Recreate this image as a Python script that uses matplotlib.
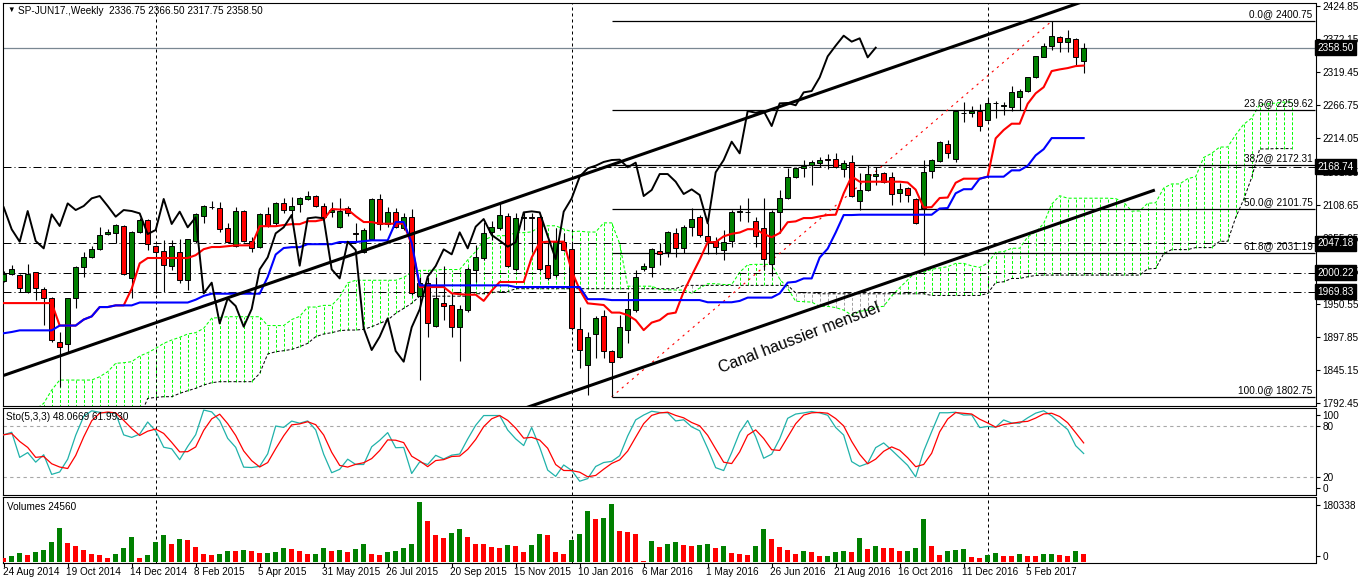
import numpy as np
import pandas as pd
import matplotlib
matplotlib.use("Agg")
import matplotlib.pyplot as plt

plt.rcParams['font.family'] = ['Liberation Sans', 'DejaVu Sans']

# ---------------- data (weekly bars, week 0 = 24 Aug 2014) ----------------
date_labels = ['24 Aug 2014', '19 Oct 2014', '14 Dec 2014', '8 Feb 2015', '5 Apr 2015',
               '31 May 2015', '26 Jul 2015', '20 Sep 2015', '15 Nov 2015', '10 Jan 2016',
               '6 Mar 2016', '1 May 2016', '26 Jun 2016', '21 Aug 2016', '16 Oct 2016',
               '11 Dec 2016', '5 Feb 2017']
date_label_weeks = [0, 8, 16, 24, 32, 40, 48, 56, 64, 72, 80, 88, 96, 104, 112, 120, 128]
year_separator_weeks = [19, 71, 123]

opens = [1987.1, 1998.8, 1996.1, 1969.1, 2000.9, 1974.4, 1960.0, 1889.5, 1886.3, 1959.5,
         2009.9, 2024.8, 2037.5, 2061.4, 2063.0, 2074.1, 1991.4, 2065.1, 2083.7, 2043.4,
         2034.9, 2011.0, 2032.7, 1988.7, 2050.8, 2090.6, 2105.4, 2102.8, 2070.9, 2042.8,
         2098.5, 2051.3, 2040.7, 2093.2, 2078.9, 2110.7, 2100.1, 2109.1, 2117.1, 2122.4,
         2106.5, 2097.5, 2073.6, 2102.8, 2063.5, 2033.8, 2053.5, 2117.7, 2077.9, 2097.5,
         2071.0, 2088.5, 1963.3, 1984.5, 1916.0, 1951.6, 1948.9, 1914.4, 1941.0, 2004.6,
         2023.2, 2064.6, 2071.0, 2090.6, 2005.7, 2086.9, 2088.5, 2089.5, 2012.6, 1996.7,
         2049.7, 2037.5, 1910.2, 1853.4, 1902.2, 1931.4, 1875.7, 1865.6, 1909.1, 1940.9,
         2006.2, 2008.9, 2035.4, 2032.8, 2063.0, 2039.1, 2073.0, 2088.5, 2059.3, 2051.3,
         2036.5, 2050.8, 2096.5, 2097.0, 2082.6, 2070.9, 2014.2, 2097.5, 2118.7, 2153.2,
         2166.5, 2172.3, 2175.5, 2180.8, 2180.8, 2164.9, 2177.1, 2115.0, 2132.0, 2154.2,
         2158.5, 2152.1, 2126.7, 2134.6, 2117.6, 2103.8, 2162.7, 2178.1, 2204.6, 2180.8,
         2254.0, 2254.0, 2257.7, 2242.9, 2269.9, 2266.2, 2263.6, 2280.5, 2290.1, 2311.3,
         2344.2, 2361.7, 2376.0, 2367.0, 2372.3, 2336.75]
highs = [2003.0, 2012.6, 1997.7, 2013.6, 2002.0, 1978.1, 1962.2, 1906.5, 1960.6, 2010.5,
         2032.7, 2042.8, 2072.5, 2069.4, 2077.8, 2076.3, 2066.0, 2086.9, 2085.3, 2044.4,
         2052.4, 2052.4, 2053.4, 2054.5, 2095.9, 2108.1, 2115.0, 2113.4, 2078.9, 2105.4,
         2100.1, 2057.7, 2095.9, 2105.4, 2112.3, 2118.7, 2121.4, 2121.4, 2130.9, 2124.0,
         2110.7, 2113.4, 2118.7, 2106.5, 2078.9, 2070.9, 2118.7, 2125.6, 2105.5, 2102.8,
         2094.8, 2101.2, 1994.0, 1994.0, 1994.0, 2011.0, 1967.5, 1948.9, 2008.9, 2044.4,
         2081.6, 2083.2, 2110.8, 2094.8, 2094.8, 2097.5, 2094.8, 2092.2, 2049.7, 2071.0,
         2063.0, 2047.1, 1946.3, 1906.5, 1931.9, 1941.0, 1877.0, 1933.0, 1969.1, 2004.6,
         2015.2, 2039.1, 2047.1, 2066.7, 2071.0, 2076.3, 2103.9, 2092.2, 2078.9, 2057.7,
         2068.3, 2100.1, 2108.1, 2118.7, 2088.5, 2118.7, 2100.1, 2132.0, 2166.5, 2169.1,
         2179.7, 2179.7, 2185.0, 2189.3, 2190.3, 2179.7, 2187.7, 2158.5, 2171.8, 2168.0,
         2161.2, 2161.2, 2142.6, 2137.3, 2119.0, 2179.7, 2181.0, 2210.0, 2211.5, 2258.5,
         2271.5, 2266.2, 2268.3, 2277.9, 2273.6, 2271.5, 2298.0, 2292.2, 2312.5, 2345.8,
         2365.4, 2400.75, 2377.6, 2386.7, 2373.4, 2366.50]
lows = [1985.5, 1996.7, 1970.1, 1968.0, 1956.9, 1917.1, 1890.5, 1818.9, 1872.0, 1943.6,
        1994.0, 2023.2, 2036.5, 2060.3, 2048.1, 1996.1, 1960.6, 2063.0, 2036.5, 1967.5,
        1970.1, 2004.6, 1983.4, 1972.8, 2047.1, 2078.9, 2101.2, 2065.6, 2048.1, 2041.8,
        2049.7, 2033.8, 2039.1, 2072.5, 2076.3, 2095.9, 2089.5, 2097.5, 2116.0, 2104.4,
        2086.9, 2089.5, 2070.9, 2090.6, 2049.7, 2031.1, 2052.4, 2068.3, 2073.6, 2071.0,
        2068.3, 1964.8, 1829.5, 1897.5, 1914.4, 1925.0, 1898.5, 1860.3, 1938.3, 1986.1,
        2020.6, 2052.4, 2068.3, 2008.9, 2003.6, 2068.3, 2033.8, 2003.6, 1988.7, 1994.0,
        2034.9, 1909.0, 1849.1, 1805.7, 1864.0, 1864.0, 1802.75, 1864.0, 1887.9, 1938.3,
        2003.0, 1994.0, 2012.6, 2025.9, 2025.9, 2031.0, 2059.3, 2057.7, 2029.6, 2030.0,
        2020.6, 2040.7, 2082.6, 2081.6, 2041.8, 2005.0, 1995.0, 2063.0, 2117.0, 2150.5,
        2152.1, 2139.9, 2169.1, 2164.9, 2166.5, 2152.1, 2121.0, 2100.1, 2130.4, 2140.0,
        2143.6, 2108.1, 2113.4, 2113.4, 2077.3, 2028.5, 2150.5, 2177.0, 2182.4, 2177.0,
        2240.7, 2248.7, 2225.9, 2241.8, 2247.1, 2251.3, 2257.7, 2259.3, 2288.5, 2309.7,
        2343.1, 2354.8, 2352.2, 2352.2, 2330.9, 2317.75]
closes = [1997.7, 2005.7, 1975.4, 1998.8, 1975.4, 1960.0, 1893.7, 1881.5, 1959.5, 2009.4,
          2024.8, 2037.5, 2059.8, 2064.6, 2076.3, 1997.7, 2065.1, 2083.7, 2046.0, 2032.7,
          2012.0, 2042.3, 1988.7, 2053.4, 2093.8, 2106.5, 2104.4, 2069.4, 2049.7, 2098.5,
          2050.8, 2039.1, 2093.2, 2074.7, 2110.7, 2100.1, 2106.5, 2118.7, 2122.4, 2106.5,
          2089.5, 2100.1, 2098.5, 2094.8, 2061.9, 2068.3, 2117.7, 2077.9, 2097.5, 2072.6,
          2088.5, 1967.5, 1984.5, 1919.7, 1959.5, 1947.3, 1914.4, 1942.6, 2005.7, 2024.8,
          2063.0, 2072.6, 2092.2, 2011.5, 2086.9, 2088.5, 2086.9, 2005.7, 1991.3, 2049.7,
          2036.5, 1911.8, 1877.3, 1898.5, 1927.7, 1875.7, 1858.7, 1913.4, 1942.0, 1994.0,
          2011.0, 2037.5, 2029.6, 2064.6, 2039.1, 2073.6, 2085.8, 2060.3, 2051.3, 2041.8,
          2048.7, 2096.4, 2098.0, 2096.4, 2058.7, 2022.1, 2097.5, 2118.7, 2153.2, 2166.5,
          2170.7, 2176.6, 2179.7, 2180.3, 2168.1, 2175.5, 2122.4, 2132.0, 2157.4, 2157.4,
          2145.2, 2125.6, 2133.0, 2124.0, 2078.9, 2160.1, 2179.7, 2208.9, 2190.3, 2257.7,
          2255.0, 2257.7, 2233.8, 2269.9, 2270.5, 2266.8, 2287.4, 2289.5, 2311.3, 2344.7,
          2361.7, 2377.6, 2368.1, 2373.4, 2343.1, 2358.50]
volumes = [12000, 19000, 27000, 21000, 30000, 36000, 60000, 102000, 57000, 48000,
           36000, 24000, 21000, 12000, 24000, 43000, 75000, 12000, 21000, 60000,
           81000, 54000, 69000, 66000, 45000, 24000, 21000, 24000, 33000, 32000,
           36000, 33000, 27000, 28000, 30000, 42000, 39000, 33000, 24000, 25000,
           42000, 33000, 36000, 30000, 39000, 54000, 24000, 21000, 30000, 33000,
           42000, 54000, 180338, 123000, 81000, 72000, 87000, 99000, 75000, 54000,
           54000, 45000, 42000, 51000, 48000, 30000, 51000, 84000, 81000, 30000,
           24000, 66000, 84000, 153000, 130000, 132000, 174000, 93000, 90000, 84000,
           2500, 63000, 45000, 54000, 60000, 51000, 48000, 51000, 54000, 42000,
           48000, 27000, 24000, 21000, 48000, 99000, 69000, 45000, 36000, 24000,
           33000, 30000, 18000, 19000, 30000, 33000, 30000, 72000, 39000, 48000,
           42000, 41000, 33000, 34000, 42000, 129000, 48000, 21000, 33000, 36000,
           39000, 15000, 12000, 21000, 27000, 18000, 18000, 24000, 18000, 18000,
           24000, 25000, 21000, 18000, 33000, 24560]

# Ichimoku values that depend on bars before the visible window
tenkan_early = [1952, 1952, 1952, 1952, 1952, 1952, 1952]
kijun_early = [1904, 1906, 1908.6, 1908.6, 1908.6, 1908.6, 1908.6]
senkou_a_early = [1775, 1775, 1775, 1775, 1783, 1792.4, 1813.6, 1829.5, 1829.5, 1829.5,
                  1829.5, 1829.5, 1834.8, 1842.8, 1856.1, 1857.1, 1858.7, 1867.7, 1873.0,
                  1879.9, 1887.9, 1893.2, 1897.5, 1902.8, 1904.9, 1911.8]
senkou_b_early = [1770] * 18 + [1800.3, 1801.9, 1803.0, 1803.0, 1808.3, 1812.5, 1816.3,
                  1821.6, 1825.3, 1826.9, 1826.9, 1826.9, 1826.9, 1826.9, 1840.1, 1870.9,
                  1874.6, 1876.2, 1878.3, 1882.6, 1887.9, 1898.5, 1902.8, 1904.9, 1908.1,
                  1909.1, 1909.1, 1910.2, 1914.4, 1919.7, 1925.0, 1935.6, 1943.6, 1951.6,
                  1963.0, 1963.0, 1963.0, 1963.0, 1963.0, 1963.0, 1963.0]

h_levels = [2168.74, 2047.18, 2000.22, 1969.83]
last_price = 2358.50
fib_low_week, fib_high_week = 76, 131
fib_low, fib_high = 1802.75, 2400.75
fib_ratios = [0.0, 23.6, 38.2, 50.0, 61.8, 100.0]
axis_prices = [2424.85, 2372.15, 2319.45, 2266.75, 2214.05, 2161.35, 2108.65,
               2055.95, 2003.25, 1950.55, 1897.85, 1845.15, 1792.45]
channel_upper = [(0, 1836.9), (140, 2454.3)]
channel_lower = [(62, 1770.9), (143.9, 2132.0)]

# ---------------- derived indicator series ----------------
O = np.array(opens); Hi = np.array(highs); Lo = np.array(lows); Cl = np.array(closes)
n = len(Cl)
x = np.arange(n)
Hs, Ls, Cs = pd.Series(Hi), pd.Series(Lo), pd.Series(Cl)

tenkan = ((Hs.rolling(9, min_periods=1).max() + Ls.rolling(9, min_periods=1).min()) / 2).values
tenkan[:len(tenkan_early)] = tenkan_early
kijun = ((Hs.rolling(26, min_periods=1).max() + Ls.rolling(26, min_periods=1).min()) / 2).values
kijun[:len(kijun_early)] = kijun_early
mid52 = ((Hs.rolling(52, min_periods=1).max() + Ls.rolling(52, min_periods=1).min()) / 2).values
span_a = np.concatenate([senkou_a_early, (tenkan + kijun) / 2])
span_b = np.concatenate([senkou_b_early, mid52[len(senkou_b_early) - 26:]])
px = np.arange(len(span_a))

ll5 = Ls.rolling(5, min_periods=1).min(); hh5 = Hs.rolling(5, min_periods=1).max()
sto_k = 100 * (Cs - ll5).rolling(3, min_periods=1).sum() / (hh5 - ll5).rolling(3, min_periods=1).sum()
sto_d = sto_k.rolling(3, min_periods=1).mean()

# ---------------- figure ----------------
W, H = 1358, 584
fig = plt.figure(figsize=(W / 100, H / 100), dpi=100)
fig.patch.set_facecolor('white')

def rect(x0, y0, x1, y1):
    return [x0 / W, 1 - y1 / H, (x1 - x0) / W, (y1 - y0) / H]

ax_p = fig.add_axes(rect(2.7, 2.7, 1315.5, 405.5))
ax_s = fig.add_axes(rect(2.7, 407.5, 1315.5, 495))
ax_v = fig.add_axes(rect(2.7, 497, 1315.5, 563))
XL = (-0.125, 163.98)
FS = 7.2
GREEN = '#008000'
RED = '#ff0000'
LIME = '#00ff00'
DOT = (0, (3, 2))

for ax in (ax_p, ax_s, ax_v):
    ax.set_xlim(*XL)
    for s in ax.spines.values():
        s.set_linewidth(0.8)
        s.set_color('black')
    ax.set_xticks([])
    for w in year_separator_weeks:
        ax.axvline(w, color='black', lw=0.72, ls=(0, (3, 3)), zorder=2)

# ----- price pane -----
ax_p.set_ylim(1789.0, 2430.1)
cols = np.where(span_a >= span_b, LIME, '#a0a0a0')
ax_p.vlines(px, np.minimum(span_a, span_b), np.maximum(span_a, span_b),
            colors=cols, lw=0.7, linestyles=DOT, zorder=1)
ax_p.plot(px, span_a, color=LIME, lw=0.75, ls=DOT, zorder=1.5)
ax_p.plot(px, span_b, color='black', lw=0.72, ls=DOT, zorder=1.5)

for v in h_levels:
    ax_p.axhline(v, color='black', lw=0.72, ls=(0, (8, 3, 1, 3)), zorder=2)
ax_p.axhline(last_price, color='#7a8792', lw=0.9, zorder=2)

fib_prices = [fib_high - r / 100 * (fib_high - fib_low) for r in fib_ratios]
ax_p.hlines(fib_prices, fib_low_week, XL[1], color='black', lw=0.9, zorder=2)
ax_p.plot([fib_low_week, fib_high_week], [fib_low, fib_high], color=RED, lw=0.8,
          ls=(0, (2, 4)), zorder=2)
for r, pr in zip(fib_ratios, fib_prices):
    ax_p.annotate(f'{r:.1f}@ {pr:.2f}', xy=(1, pr), xycoords=ax_p.get_yaxis_transform(),
                  xytext=(-3, 7), textcoords='offset pixels', ha='right', va='center',
                  fontsize=FS, zorder=6)

# candles
ax_p.vlines(x, Lo, Hi, color='black', lw=0.8, zorder=3)
body_col = np.where(Cl >= O, GREEN, RED)
ax_p.bar(x, np.maximum(np.abs(Cl - O), 0.9), bottom=np.minimum(O, Cl), width=0.62,
         color=body_col, edgecolor='black', linewidth=0.7, zorder=3.5)

# ichimoku lines
ax_p.plot(x, tenkan, color=RED, lw=1.5, zorder=4)
ax_p.plot(x, kijun, color='#0000ff', lw=1.5, zorder=4.1)
ax_p.plot(x[26:] - 26, Cl[26:], color='black', lw=1.4, zorder=4.2)

# channel
ax_p.plot(*zip(*channel_upper), color='black', lw=2.2, zorder=5, solid_capstyle='butt')
ax_p.plot(*zip(*channel_lower), color='black', lw=2.2, zorder=5, solid_capstyle='butt')
ax_p.text(89.7, 1840, 'Canal haussier mensuel', rotation=21, rotation_mode='anchor',
          ha='left', va='baseline', fontsize=11.5, zorder=6)

ax_p.yaxis.tick_right()
ax_p.set_yticks(axis_prices)
ax_p.set_yticklabels([f'{v:.2f}' for v in axis_prices], fontsize=FS)
ax_p.tick_params(axis='y', direction='out', length=3, width=0.8, pad=2)
for v in [last_price] + h_levels:
    ax_p.text(1.0012, v, f'{v:.2f}', transform=ax_p.get_yaxis_transform(), color='white',
              fontsize=FS, ha='left', va='center', zorder=10, clip_on=False,
              bbox=dict(facecolor='black', edgecolor='black', boxstyle='square,pad=0.25'))

# ----- stochastic pane -----
ax_s.set_ylim(-0.7, 101.6)
for lv in (80, 20):
    ax_s.axhline(lv, color='#a8a8a8', lw=0.8, ls=(0, (3, 3)), zorder=1)
ax_s.plot(x, sto_k, color='#20b2aa', lw=0.9, zorder=3)
ax_s.plot(x, sto_d, color=RED, lw=0.9, zorder=3)
ax_s.yaxis.tick_right()
ax_s.set_yticks([93, 80, 20, 7.5])
ax_s.set_yticklabels(['100', '80', '20', '0'], fontsize=FS)
ax_s.tick_params(axis='y', direction='out', length=3, width=0.8, pad=2)

# ----- volume pane -----
vol = np.array(volumes, dtype=float)
vcol = [RED] + [GREEN if vol[i] > vol[i - 1] else RED for i in range(1, n)]
ax_v.set_ylim(-3000, 194400)
ax_v.bar(x, vol, width=0.62, color=vcol, zorder=3)
ax_v.yaxis.tick_right()
ax_v.set_yticks([170470, 17900])
ax_v.set_yticklabels(['180338', '0'], fontsize=FS)
ax_v.tick_params(axis='y', direction='out', length=3, width=0.8, pad=2)
ax_v.set_xticks(date_label_weeks)
ax_v.set_xticklabels([])
ax_v.tick_params(axis='x', direction='out', length=3, width=0.8)
for w, lab in zip(date_label_weeks, date_labels):
    ax_v.text(w - 0.15, -0.14, lab, transform=ax_v.get_xaxis_transform(), ha='left',
              va='center', fontsize=FS, clip_on=False)

# ----- header texts -----
fig.text(7 / W, 1 - 10.7 / H, '\u25bc', fontsize=5.5, va='center', ha='left')
fig.text(18 / W, 1 - 10.7 / H, 'SP-JUN17.,Weekly  2336.75 2366.50 2317.75 2358.50',
         fontsize=FS, va='center', ha='left')
fig.text(6 / W, 1 - 417 / H, 'Sto(5,3,3) 48.0669 61.9930', fontsize=FS, va='center', ha='left')
fig.text(7 / W, 1 - 506.7 / H, 'Volumes 24560', fontsize=FS, va='center', ha='left')

fig.savefig('out.png', dpi=100, facecolor='white')
